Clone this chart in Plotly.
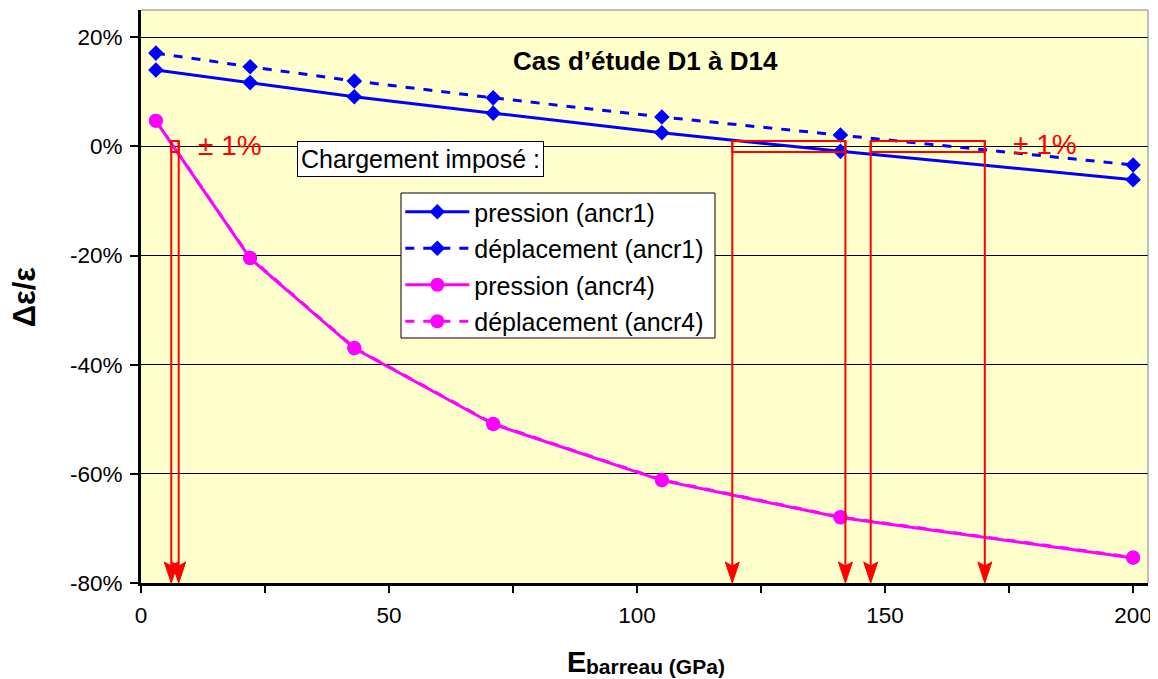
import plotly.graph_objects as go

# ---- data ----
E_gpa = [3, 22, 43, 71, 105, 141, 200]
pression_ancr1 = [14.0, 11.7, 9.1, 6.1, 2.5, -0.9, -6.1]
deplacement_ancr1 = [17.1, 14.6, 12.0, 8.9, 5.4, 2.1, -3.4]
pression_ancr4 = [4.7, -20.5, -37.0, -50.9, -61.2, -68.0, -75.4]
deplacement_ancr4 = [4.7, -20.4, -36.9, -50.8, -61.1, -67.9, -75.3]

series_names = ["pression (ancr1)", "déplacement (ancr1)", "pression (ancr4)", "déplacement (ancr4)"]

# ±1% band crossings (x positions of red arrows)
band_pairs = [(6.1, 7.6), (119.2, 142.0), (147.1, 170.1)]
band_limits = [-1, 1]

x_tickvals = [0, 25, 50, 75, 100, 125, 150, 175, 200]
x_ticktext = ["0", "", "50", "", "100", "", "150", "", "200"]
y_tickvals = [20, 0, -20, -40, -60, -80]
y_ticktext = ["20%", "0%", "-20%", "-40%", "-60%", "-80%"]

X_RANGE = [0, 203]
Y_RANGE = [-80, 25]

FONT = "Liberation Sans, Arial, sans-serif"
BLUE = "#0000FF"
MAG = "#FF00FF"
RED = "#FF0000"

# figure geometry (body has an 8px default margin: shrink by 8px to compensate)
FIG_W, FIG_H = 1150, 671
M_L, M_R, M_T, M_B = 133, 10, 2, 96
px_per_x = (FIG_W - M_L - M_R) / (X_RANGE[1] - X_RANGE[0])
px_per_y = (FIG_H - M_T - M_B) / (Y_RANGE[1] - Y_RANGE[0])

fig = go.Figure()
specs = [
    (pression_ancr1, BLUE, "solid", "diamond", 12),
    (deplacement_ancr1, BLUE, "dash", "diamond", 12),
    (pression_ancr4, MAG, "solid", "circle", 14),
    (deplacement_ancr4, MAG, "dash", "circle", 14),
]
for i, (ys, col, dash, sym, ms) in enumerate(specs):
    fig.add_trace(go.Scatter(
        x=E_gpa, y=ys, name=series_names[i], mode="lines+markers",
        legendgroup=f"g{i}",
        line=dict(color=col, width=3, dash=dash),
        marker=dict(color=col, symbol=sym, size=ms, line=dict(width=0)),
        cliponaxis=False,
    ))

shapes = []
annotations = []
# arrowhead size in pixels
HEAD_HALF_W, HEAD_LEN, HEAD_NOTCH = 7, 21, 17
for (xa, xb) in band_pairs:
    shapes.append(dict(type="rect", xref="x", yref="y", x0=xa, x1=xb,
                       y0=band_limits[0], y1=band_limits[1],
                       line=dict(color=RED, width=2), fillcolor="rgba(0,0,0,0)"))
    for xv in (xa, xb):
        tip = Y_RANGE[0]
        dx = HEAD_HALF_W / px_per_x
        yb = tip + HEAD_LEN / px_per_y
        yn = tip + HEAD_NOTCH / px_per_y
        shapes.append(dict(type="line", xref="x", yref="y", x0=xv, x1=xv,
                           y0=band_limits[1], y1=yn, line=dict(color=RED, width=2)))
        shapes.append(dict(type="path", xref="x", yref="y",
                           path=f"M {xv},{tip} L {xv-dx},{yb} L {xv},{yn} L {xv+dx},{yb} Z",
                           fillcolor=RED, line=dict(color=RED, width=1)))

# plot frame: gray top and right borders
shapes.append(dict(type="line", xref="paper", yref="paper", x0=0, x1=1, y0=1, y1=1,
                   line=dict(color="#808080", width=1)))
shapes.append(dict(type="line", xref="paper", yref="paper", x0=1, x1=1, y0=0, y1=1,
                   line=dict(color="#808080", width=1)))
# legend frame (white box)
shapes.append(dict(type="rect", xref="paper", yref="paper", x0=0.2582, x1=0.5700,
                   y0=0.4276, y1=0.6806, layer="above",
                   line=dict(color="black", width=1), fillcolor="white"))

annotations += [
    dict(x=101.8, y=15.7, xref="x", yref="y", text="<b>Cas d’étude D1 à D14</b>",
         showarrow=False, xanchor="center", yanchor="middle",
         font=dict(size=26, color="black", family=FONT)),
    dict(x=18.0, y=0.2, xref="x", yref="y", text="± 1%", showarrow=False,
         xanchor="center", yanchor="middle",
         font=dict(size=28, color=RED, family=FONT)),
    dict(x=182.3, y=0.4, xref="x", yref="y", text="± 1%", showarrow=False,
         xanchor="center", yanchor="middle",
         font=dict(size=28, color=RED, family=FONT)),
    dict(x=56.4, y=-2.3, xref="x", yref="y", text="Chargement imposé :", showarrow=False,
         xanchor="center", yanchor="middle",
         font=dict(size=25, color="black", family=FONT), bgcolor="white",
         bordercolor="black", borderwidth=1, borderpad=3),
    dict(x=-0.1160, y=0.499, xref="paper", yref="paper", text="<b>Δε/ε</b>", textangle=-90,
         showarrow=False, xanchor="center", yanchor="middle",
         font=dict(size=31, color="black", family=FONT)),
    dict(x=0.4220, y=-0.1379, xref="paper", yref="paper", text="<b>E</b>", showarrow=False,
         xanchor="left", yanchor="middle", borderpad=0,
         font=dict(size=29, color="black", family=FONT)),
    dict(x=0.4412, y=-0.1459, xref="paper", yref="paper", text="<b>barreau (GPa)</b>",
         showarrow=False, xanchor="left", yanchor="middle", borderpad=0,
         font=dict(size=21, color="black", family=FONT)),
]

fig.update_layout(
    width=FIG_W, height=FIG_H,
    margin=dict(l=M_L, r=M_R, t=M_T, b=M_B),
    paper_bgcolor="white", plot_bgcolor="#FFFFCC",
    font=dict(family=FONT, color="black"),
    showlegend=True,
    legend=dict(x=0.2575, y=0.6876, xanchor="left", yanchor="top",
                bgcolor="rgba(0,0,0,0)", borderwidth=0,
                font=dict(size=25, color="black", family=FONT),
                traceorder="grouped", tracegroupgap=1, itemwidth=64),
    shapes=shapes, annotations=annotations,
    xaxis=dict(range=X_RANGE, tickvals=x_tickvals, ticktext=x_ticktext,
               showgrid=False, zeroline=False, showline=True, linecolor="black", linewidth=3,
               ticks="outside", ticklen=7, tickwidth=2, tickcolor="black",
               tickfont=dict(size=22.5, color="black", family=FONT), ticklabelstandoff=3),
    yaxis=dict(range=Y_RANGE, tickvals=y_tickvals, ticktext=y_ticktext,
               showgrid=True, gridcolor="black", gridwidth=1, zeroline=False,
               showline=True, linecolor="black", linewidth=3,
               ticks="outside", ticklen=8, tickwidth=2, tickcolor="black",
               tickfont=dict(size=22.5, color="black", family=FONT), ticklabelstandoff=3),
)

fig.write_html("out.html")
